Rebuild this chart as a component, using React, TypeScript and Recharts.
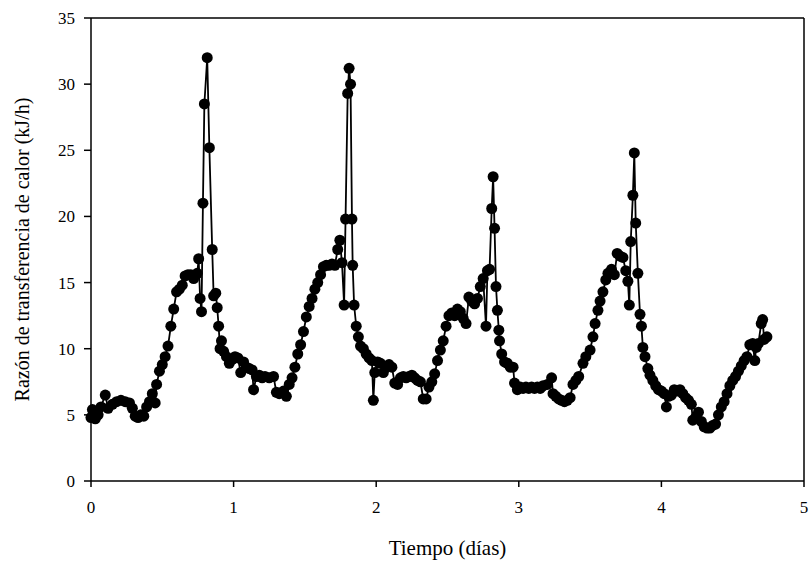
import React from "react";
import { LineChart, Line, XAxis, YAxis, ReferenceLine, Label } from "recharts";

const tiempo = [
  0.0, 0.01, 0.03, 0.05, 0.07, 0.1, 0.12, 0.15, 0.18, 0.21, 0.24, 0.27, 0.29, 0.31, 0.33, 0.35, 0.37, 0.39, 0.41, 0.43,
  0.45, 0.46, 0.48, 0.5, 0.52, 0.54, 0.56, 0.58, 0.6, 0.62, 0.64, 0.66, 0.68, 0.7, 0.72, 0.745, 0.755, 0.765, 0.775, 0.785,
  0.795, 0.815, 0.83, 0.85, 0.86, 0.875, 0.885, 0.895, 0.905, 0.915, 0.93, 0.95, 0.97, 0.99, 1.01, 1.03, 1.05, 1.07, 1.09, 1.11,
  1.13, 1.14, 1.16, 1.18, 1.2, 1.22, 1.25, 1.28, 1.3, 1.32, 1.35, 1.37, 1.39, 1.41, 1.43, 1.45, 1.47, 1.49, 1.51, 1.53,
  1.55, 1.57, 1.59, 1.61, 1.63, 1.65, 1.67, 1.69, 1.71, 1.73, 1.745, 1.76, 1.775, 1.785, 1.8, 1.81, 1.82, 1.83, 1.835, 1.845,
  1.86, 1.875, 1.89, 1.91, 1.93, 1.95, 1.97, 1.98, 1.99, 2.01, 2.03, 2.05, 2.07, 2.09, 2.11, 2.13, 2.15, 2.17, 2.19, 2.21,
  2.23, 2.25, 2.27, 2.29, 2.31, 2.33, 2.35, 2.37, 2.39, 2.41, 2.43, 2.45, 2.47, 2.49, 2.51, 2.53, 2.55, 2.57, 2.59, 2.61,
  2.63, 2.65, 2.67, 2.69, 2.71, 2.73, 2.75, 2.77, 2.78, 2.795, 2.81, 2.82, 2.83, 2.84, 2.85, 2.86, 2.865, 2.88, 2.9, 2.92,
  2.94, 2.96, 2.97, 2.99, 3.01, 3.03, 3.05, 3.07, 3.09, 3.11, 3.13, 3.15, 3.17, 3.2, 3.23, 3.24, 3.26, 3.28, 3.3, 3.32,
  3.34, 3.36, 3.38, 3.4, 3.42, 3.45, 3.47, 3.5, 3.52, 3.535, 3.555, 3.57, 3.59, 3.61, 3.625, 3.65, 3.67, 3.69, 3.71, 3.73,
  3.75, 3.765, 3.775, 3.785, 3.8, 3.81, 3.82, 3.835, 3.85, 3.86, 3.87, 3.885, 3.905, 3.92, 3.94, 3.96, 3.98, 4.0, 4.02, 4.035,
  4.05, 4.07, 4.09, 4.11, 4.13, 4.15, 4.17, 4.19, 4.21, 4.22, 4.24, 4.26, 4.28, 4.3, 4.32, 4.34, 4.36, 4.38, 4.4, 4.42,
  4.44, 4.46, 4.48, 4.5, 4.52, 4.54, 4.56, 4.58, 4.6, 4.62, 4.64, 4.655, 4.665, 4.68, 4.7, 4.71, 4.72, 4.74,
];

const calor = [
  4.8, 5.4, 4.7, 5.0, 5.6, 6.5, 5.5, 5.8, 6.0, 6.1, 6.0, 5.9, 5.5, 4.9, 4.8, 5.0, 4.9, 5.6, 6.0, 6.6,
  5.9, 7.3, 8.3, 8.8, 9.4, 10.2, 11.7, 13.0, 14.3, 14.5, 14.8, 15.5, 15.6, 15.6, 15.3, 15.7, 16.8, 13.8, 12.8, 21.0,
  28.5, 32.0, 25.2, 17.5, 14.0, 14.2, 13.1, 11.7, 10.0, 10.6, 9.8, 9.4, 8.9, 9.2, 9.4, 9.3, 8.2, 9.0, 8.6, 8.5,
  8.4, 6.9, 7.9, 8.0, 7.8, 7.9, 7.8, 7.9, 6.7, 6.6, 6.8, 6.4, 7.3, 7.8, 8.6, 9.6, 10.3, 11.3, 12.4, 13.2,
  13.8, 14.5, 15.0, 15.6, 16.2, 16.3, 16.3, 16.4, 16.3, 17.5, 18.2, 16.5, 13.3, 19.8, 29.3, 31.2, 30.0, 19.8, 16.3, 13.3,
  11.7, 10.9, 10.2, 10.0, 9.6, 9.3, 9.1, 6.1, 8.2, 9.0, 8.9, 8.2, 8.6, 8.8, 8.6, 7.4, 7.3, 7.8, 7.9, 7.8,
  7.9, 8.0, 7.8, 7.6, 7.5, 6.2, 6.2, 7.1, 7.5, 8.1, 9.1, 9.9, 10.6, 11.7, 12.5, 12.7, 12.5, 13.0, 12.8, 12.3,
  11.9, 13.9, 13.6, 13.4, 13.8, 14.7, 15.3, 11.7, 15.9, 16.0, 20.6, 23.0, 19.1, 14.7, 12.9, 11.4, 10.6, 9.6, 9.0, 8.9,
  8.6, 8.6, 7.4, 6.9, 7.1, 7.0, 7.1, 7.0, 7.1, 7.0, 7.1, 7.0, 7.2, 7.3, 7.8, 6.6, 6.4, 6.2, 6.1, 6.0,
  6.1, 6.3, 7.3, 7.6, 7.9, 8.9, 9.4, 9.9, 10.9, 11.9, 12.9, 13.6, 14.3, 15.2, 15.7, 16.0, 15.6, 17.2, 17.0, 16.9,
  15.9, 15.1, 13.3, 18.1, 21.6, 24.8, 19.5, 15.7, 12.6, 11.7, 10.1, 9.4, 8.5, 8.0, 7.6, 7.2, 6.9, 6.8, 6.6, 5.6,
  6.4, 6.5, 6.9, 6.8, 6.9, 6.6, 6.3, 6.1, 5.8, 4.6, 4.8, 5.2, 4.5, 4.1, 4.0, 4.0, 4.2, 4.3, 5.0, 5.6,
  6.0, 6.6, 7.2, 7.6, 7.9, 8.3, 8.7, 9.1, 9.4, 10.3, 10.4, 9.1, 10.1, 10.4, 11.9, 12.2, 10.7, 10.9,
];

const xTicks = [0, 1, 2, 3, 4, 5];
const yTicks = [0, 5, 10, 15, 20, 25, 30, 35];

const data = tiempo.map((t, i) => ({ t, v: calor[i] }));

const font = "'Liberation Serif', 'Times New Roman', serif";

export default function App() {
  return (
    <div style={{ position: "absolute", left: 0, top: 0, background: "#fff" }}>
      <LineChart
        width={809}
        height={563}
        data={data}
        margin={{ top: 18, right: 5, left: 0, bottom: 0 }}
      >
        <XAxis
          dataKey="t"
          type="number"
          domain={[0, 5]}
          ticks={xTicks}
          height={82}
          tickSize={6}
          tickMargin={14}
          stroke="#000"
          strokeWidth={1.5}
          tick={{ fill: "#000", fontSize: 17, fontFamily: font }}
        >
          <Label
            value="Tiempo (días)"
            position="insideBottom"
            offset={8}
            style={{ fill: "#000", fontSize: 21, fontFamily: font }}
          />
        </XAxis>
        <YAxis
          type="number"
          domain={[0, 35]}
          ticks={yTicks}
          width={91}
          tickSize={7}
          tickMargin={9}
          stroke="#000"
          strokeWidth={1.5}
          tick={{ fill: "#000", fontSize: 17, fontFamily: font }}
        >
          <Label
            value="Razón de transferencia de calor (kJ/h)"
            angle={-90}
            position="insideLeft"
            offset={22}
            style={{ fill: "#000", fontSize: 20, fontFamily: font, textAnchor: "middle" }}
          />
        </YAxis>
        <ReferenceLine y={35} stroke="#000" strokeWidth={1.5} />
        <ReferenceLine x={5} stroke="#000" strokeWidth={1.5} />
        <Line
          type="linear"
          dataKey="v"
          stroke="#000"
          strokeWidth={1.8}
          dot={{ r: 5.5, fill: "#000", stroke: "none" }}
          activeDot={false}
          isAnimationActive={false}
        />
      </LineChart>
    </div>
  );
}
